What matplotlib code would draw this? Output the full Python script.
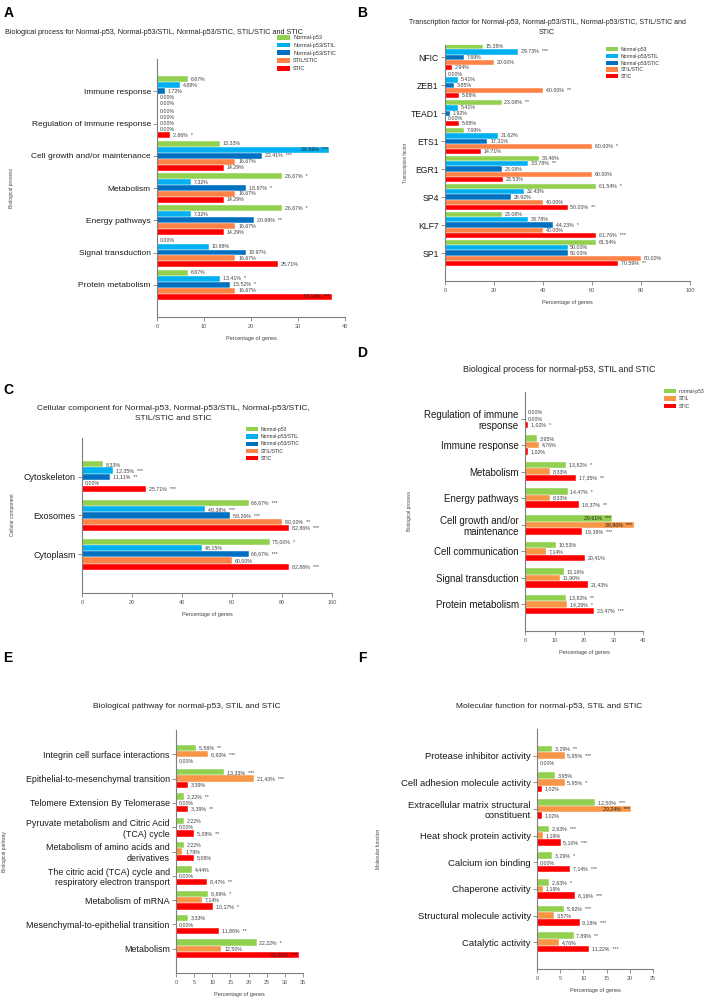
import matplotlib
matplotlib.use("Agg")
import matplotlib.pyplot as plt
from matplotlib.patches import Patch

plt.rcParams['font.family'] = ['Liberation Sans', 'DejaVu Sans']

GREEN, LBLUE, DBLUE, RED = '#92D050', '#00B0F0', '#0070C0', '#FF0000'
ORANGE_A, ORANGE_D = '#FF8247', '#F79646'
GREY = '#7F7F7F'
TXT = '#404040'

five_names = ['Normal-p53', 'Normal-p53/STIL', 'Normal-p53/STIC', 'STIL/STIC', 'STIC']
three_names = ['normal-p53', 'STIL', 'STIC']

# ---- A: biological process, five groups
a_cats = ['Immune response', 'Regulation of immune response', 'Cell growth and/or maintenance',
          'Metabolism', 'Energy pathways', 'Signal transduction', 'Protein metabolism']
a_normal = [6.67, 0.00, 13.33, 26.67, 26.67, 0.00, 6.67]
a_normal_stil = [4.88, 0.00, 36.59, 7.32, 7.32, 10.98, 13.41]
a_normal_stic = [1.72, 0.00, 22.41, 18.97, 20.69, 18.97, 15.52]
a_stil_stic = [0.00, 0.00, 16.67, 16.67, 16.67, 16.67, 16.67]
a_stic = [0.00, 2.86, 14.29, 14.29, 14.29, 25.71, 37.14]
a_normal_sig = ['', '', '', '*', '*', '', '']
a_normal_stil_sig = ['', '', '***', '', '', '', '*']
a_normal_stic_sig = ['', '', '***', '*', '**', '', '*']
a_stil_stic_sig = ['', '', '', '', '', '', '']
a_stic_sig = ['', '*', '', '', '', '', '***']

# ---- B: transcription factor, five groups
b_cats = ['NFIC', 'ZEB1', 'TEAD1', 'ETS1', 'EGR1', 'SP4', 'KLF7', 'SP1']
b_normal = [15.38, 0.00, 23.08, 7.69, 38.46, 61.54, 23.08, 61.54]
b_normal_stil = [29.73, 5.41, 5.41, 21.62, 33.78, 32.43, 33.78, 50.00]
b_normal_stic = [7.69, 3.85, 1.92, 17.31, 23.08, 26.92, 44.23, 50.00]
b_stil_stic = [20.00, 40.00, 0.00, 60.00, 60.00, 40.00, 40.00, 80.00]
b_stic = [2.94, 5.88, 5.88, 14.71, 23.53, 50.00, 61.76, 70.59]
b_normal_sig = ['', '', '**', '', '', '*', '', '']
b_normal_stil_sig = ['***', '', '', '', '**', '', '', '']
b_normal_stic_sig = ['', '', '', '', '', '', '*', '']
b_stil_stic_sig = ['', '**', '', '*', '', '', '', '']
b_stic_sig = ['', '', '', '', '', '**', '***', '**']

# ---- C: cellular component, five groups
c_cats = ['Cytoskeleton', 'Exosomes', 'Cytoplasm']
c_normal = [8.33, 66.67, 75.00]
c_normal_stil = [12.35, 49.38, 48.15]
c_normal_stic = [11.11, 59.26, 66.67]
c_stil_stic = [0.00, 80.00, 60.00]
c_stic = [25.71, 82.86, 82.86]
c_normal_sig = ['', '***', '*']
c_normal_stil_sig = ['***', '***', '']
c_normal_stic_sig = ['**', '***', '***']
c_stil_stic_sig = ['', '**', '']
c_stic_sig = ['***', '***', '***']

# ---- D: biological process, three groups
d_cats = ['Regulation of immune\nresponse', 'Immune response', 'Metabolism', 'Energy pathways',
          'Cell growth and/or\nmaintenance', 'Cell communication', 'Signal transduction',
          'Protein metabolism']
d_normal = [0.00, 3.95, 13.82, 14.47, 29.61, 10.53, 13.16, 13.82]
d_stil = [0.00, 4.76, 8.33, 8.33, 36.90, 7.14, 11.90, 14.29]
d_stic = [1.02, 1.02, 17.35, 18.37, 19.39, 20.41, 21.43, 23.47]
d_normal_sig = ['', '', '*', '*', '***', '', '', '**']
d_stil_sig = ['', '', '', '', '***', '', '', '*']
d_stic_sig = ['*', '', '**', '**', '***', '', '', '***']

# ---- E: biological pathway, three groups
e_cats = ['Integrin cell surface interactions', 'Epithelial-to-mesenchymal transition',
          'Telomere Extension By Telomerase', 'Pyruvate metabolism and Citric Acid\n(TCA) cycle',
          'Metabolism of amino acids and\nderivatives',
          'The citric acid (TCA) cycle and\nrespiratory electron transport',
          'Metabolism of mRNA', 'Mesenchymal-to-epithelial transition', 'Metabolism']
e_normal = [5.56, 13.33, 2.22, 2.22, 2.22, 4.44, 8.89, 3.33, 22.22]
e_stil = [8.93, 21.43, 0.00, 0.00, 1.79, 0.00, 7.14, 0.00, 12.50]
e_stic = [0.00, 3.39, 3.39, 5.08, 5.08, 8.47, 10.17, 11.86, 33.90]
e_normal_sig = ['**', '***', '**', '', '', '', '*', '', '*']
e_stil_sig = ['***', '***', '', '', '', '', '', '', '']
e_stic_sig = ['', '', '**', '**', '', '**', '*', '**', '***']

# ---- F: molecular function, three groups
f_cats = ['Protease inhibitor activity', 'Cell adhesion molecule activity',
          'Extracellular matrix structural\nconstituent', 'Heat shock protein activity',
          'Calcium ion binding', 'Chaperone activity', 'Structural molecule activity',
          'Catalytic activity']
f_normal = [3.29, 3.95, 12.50, 2.63, 3.29, 2.63, 5.92, 7.89]
f_stil = [5.95, 5.95, 20.24, 1.19, 0.00, 1.19, 3.57, 4.76]
f_stic = [0.00, 1.02, 1.02, 5.10, 7.14, 8.16, 9.18, 11.22]
f_normal_sig = ['**', '', '***', '***', '*', '*', '***', '**']
f_stil_sig = ['***', '*', '***', '', '', '', '', '']
f_stic_sig = ['', '', '', '***', '***', '***', '***', '***']

W, H = 708, 999
fig = plt.figure(figsize=(W / 100, H / 100), dpi=100)


def px_axes(x0, x1, y0, y1):
    return fig.add_axes([x0 / W, 1 - y1 / H, (x1 - x0) / W, (y1 - y0) / H])


def ftext(x, y, s, **kw):
    fig.text(x / W, 1 - y / H, s, **kw)


def bar_panel(ax, cats, series, sigs, colors, xmax, xstep, dec, top, bar_h, cat_size, ax_px_w):
    n = len(series)
    ys = list(range(len(cats)))
    for j, (vals, sig, col) in enumerate(zip(series, sigs, colors)):
        off = (j - (n - 1) / 2) * bar_h
        pos = [y + off for y in ys]
        ax.barh(pos, vals, height=bar_h, color=col, edgecolor='white', linewidth=0.3)
        for p, v, s in zip(pos, vals, sig):
            lab = f"{v:.2f}%"
            if dec == ',':
                lab = lab.replace('.', ',')
            if s:
                lab += '  ' + s
            # rough text width in data units -> put label inside if it would run off the axis
            w = len(lab) * 3.0 * xmax / ax_px_w
            if v + w > 0.97 * xmax:
                ax.annotate(lab, (v, p), xytext=(-1, 0), textcoords='offset points',
                            ha='right', va='center', fontsize=3.8, color='#222222')
            else:
                ax.annotate(lab, (v, p), xytext=(2, 0), textcoords='offset points',
                            ha='left', va='center', fontsize=3.8, color=TXT)
    ax.set_xlim(0, xmax)
    ax.set_ylim(len(cats), top)
    ax.set_yticks(ys)
    ax.set_yticklabels(cats, fontsize=cat_size)
    ax.set_xticks(range(0, xmax + 1, xstep))
    ax.tick_params(axis='x', labelsize=4, color=GREY, labelcolor='#555555', length=3, width=0.6, pad=2)
    ax.tick_params(axis='y', color=GREY, labelcolor='#1a1a1a', length=3, width=0.6, pad=1.5)
    for side in ('top', 'right'):
        ax.spines[side].set_visible(False)
    for side in ('left', 'bottom'):
        ax.spines[side].set_color(GREY)
        ax.spines[side].set_linewidth(0.8)
    ax.set_xlabel('Percentage of genes', fontsize=4, color='#444444', labelpad=5)
    ax.patch.set_alpha(0)


def legend(ax, names, colors, x, y, size, spacing):
    handles = [Patch(facecolor=c, edgecolor='none') for c in colors]
    ax.legend(handles, names, loc='upper left', bbox_to_anchor=(x / W, 1 - y / H),
              bbox_transform=fig.transFigure, fontsize=size, frameon=False,
              handlelength=2.4, handleheight=0.9, labelspacing=spacing,
              borderpad=0, borderaxespad=0, handletextpad=0.5, labelcolor='#333333')


five_cols_a = [GREEN, LBLUE, DBLUE, ORANGE_A, RED]
three_cols = [GREEN, ORANGE_D, RED]

# A
ax = px_axes(157, 345, 59, 317)
bar_panel(ax, a_cats, [a_normal, a_normal_stil, a_normal_stic, a_stil_stic, a_stic],
          [a_normal_sig, a_normal_stil_sig, a_normal_stic_sig, a_stil_stic_sig, a_stic_sig],
          five_cols_a, 40, 10, '.', -1, 0.185, 6, 188)
legend(ax, five_names, five_cols_a, 277, 35, 4, 0.45)
ftext(154, 32, 'Biological process for Normal-p53, Normal-p53/STIL, Normal-p53/STIC, STIL/STIC and STIC',
      ha='center', va='center', fontsize=5.2, color='#222222')
ftext(12, 188, 'Biological process', rotation=90, ha='center', va='center', fontsize=3.5, color='#444444')

# B
ax = px_axes(445, 690, 45, 281)
bar_panel(ax, b_cats, [b_normal, b_normal_stil, b_normal_stic, b_stil_stic, b_stic],
          [b_normal_sig, b_normal_stil_sig, b_normal_stic_sig, b_stil_stic_sig, b_stic_sig],
          five_cols_a, 100, 20, '.', -0.43, 0.18, 6.2, 245)
legend(ax, five_names, five_cols_a, 606, 47, 3.6, 0.35)
ftext(547, 22, 'Transcription factor for Normal-p53, Normal-p53/STIL, Normal-p53/STIC, STIL/STIC and',
      ha='center', va='center', fontsize=5.0, color='#222222')
ftext(547, 33, 'STIC', ha='center', va='center', fontsize=5.0, color='#222222')
ftext(405, 163, 'Transcription factor', rotation=90, ha='center', va='center', fontsize=3.3, color='#444444')

# C
ax = px_axes(82, 332, 438, 593)
bar_panel(ax, c_cats, [c_normal, c_normal_stil, c_normal_stic, c_stil_stic, c_stic],
          [c_normal_sig, c_normal_stil_sig, c_normal_stic_sig, c_stil_stic_sig, c_stic_sig],
          five_cols_a, 100, 20, ',', -1, 0.16, 6.5, 250)
legend(ax, five_names, five_cols_a, 246, 427, 3.6, 0.45)
ftext(173, 408, 'Cellular component for Normal-p53, Normal-p53/STIL, Normal-p53/STIC,',
      ha='center', va='center', fontsize=6.0, color='#222222')
ftext(173, 419, 'STIL/STIC and STIC', ha='center', va='center', fontsize=6.0, color='#222222')
ftext(13, 515, 'Cellular component', rotation=90, ha='center', va='center', fontsize=3.5, color='#444444')

# D
ax = px_axes(525, 643, 392, 631)
bar_panel(ax, d_cats, [d_normal, d_stil, d_stic], [d_normal_sig, d_stil_sig, d_stic_sig],
          three_cols, 40, 10, ',', -1, 0.245, 7, 118)
legend(ax, three_names, three_cols, 664, 389, 3.6, 0.45)
ftext(559, 369, 'Biological process for normal-p53, STIL and STIC',
      ha='center', va='center', fontsize=6.3, color='#222222')
ftext(409, 511, 'Biological process', rotation=90, ha='center', va='center', fontsize=3.5, color='#444444')

# E
ax = px_axes(176, 303, 730, 973)
bar_panel(ax, e_cats, [e_normal, e_stil, e_stic], [e_normal_sig, e_stil_sig, e_stic_sig],
          three_cols, 35, 5, ',', -1, 0.26, 6.4, 127)
ftext(187, 707, 'Biological pathway for normal-p53, STIL and STIC',
      ha='center', va='center', fontsize=6.0, color='#222222')
ftext(5, 851, 'Biological pathway', rotation=90, ha='center', va='center', fontsize=3.5, color='#444444')

# F
ax = px_axes(537, 653, 729, 969)
bar_panel(ax, f_cats, [f_normal, f_stil, f_stic], [f_normal_sig, f_stil_sig, f_stic_sig],
          three_cols, 25, 5, ',', -1, 0.25, 6.8, 116)
ftext(549, 706, 'Molecular function for normal-p53, STIL and STIC',
      ha='center', va='center', fontsize=6.0, color='#222222')
ftext(379, 849, 'Molecular function', rotation=90, ha='center', va='center', fontsize=3.5, color='#444444')

# panel letters
for letter, x, y in [('A', 9, 13), ('B', 362, 13), ('C', 8, 390),
                     ('D', 362, 353), ('E', 8, 658), ('F', 362, 658)]:
    ftext(x, y, letter, ha='center', va='center', fontsize=10, fontweight='bold', color='black')

fig.savefig('out.png', dpi=100)
